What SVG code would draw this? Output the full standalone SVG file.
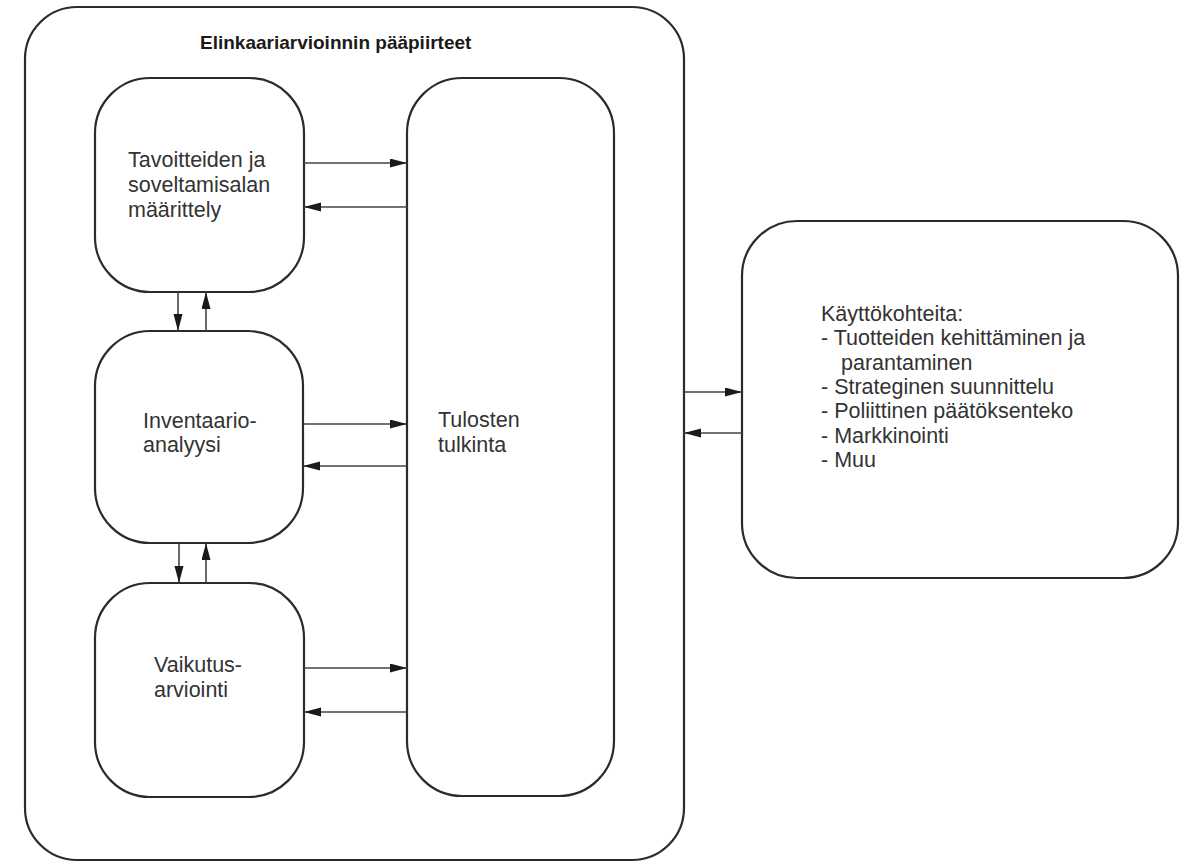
<svg xmlns="http://www.w3.org/2000/svg" width="1181" height="862" viewBox="0 0 1181 862">
<style>
.box{fill:#fff;stroke:#2b2b2b;stroke-width:2.2}
.outer{fill:#fff;stroke:#2b2b2b;stroke-width:2.2}
.lbl{font-family:"Liberation Sans",Arial,sans-serif;font-size:21.5px;fill:#333}
.title{font-family:"Liberation Sans",Arial,sans-serif;font-size:19px;font-weight:bold;fill:#1a1a1a}
.conn{stroke:#444;stroke-width:1.6;fill:none;marker-end:url(#ah)}
</style>
<defs>
<marker id="ah" markerUnits="userSpaceOnUse" markerWidth="18" markerHeight="10" refX="17" refY="4.5" orient="auto">
<path d="M0,0 L17,4.5 L0,9 z" fill="#1a1a1a"/>
</marker>
</defs>
<rect width="1181" height="862" fill="#fff"/>
<g id="outer">
<rect class="outer" x="25" y="7" width="659" height="853" rx="52" ry="52"/>
<text class="title" x="200" y="49">Elinkaariarvioinnin pääpiirteet</text>
</g>
<g id="goal">
<rect class="box" x="95" y="78" width="209" height="214" rx="55" ry="55"/>
<text class="lbl" x="128" y="167">Tavoitteiden ja</text>
<text class="lbl" x="128" y="192">soveltamisalan</text>
<text class="lbl" x="128" y="217">määrittely</text>
</g>
<g id="inventory">
<rect class="box" x="95" y="331" width="208" height="212" rx="55" ry="55"/>
<text class="lbl" x="143" y="428">Inventaario-</text>
<text class="lbl" x="143" y="452">analyysi</text>
</g>
<g id="impact">
<rect class="box" x="95" y="583" width="209" height="214" rx="55" ry="55"/>
<text class="lbl" x="154" y="672">Vaikutus-</text>
<text class="lbl" x="154" y="697">arviointi</text>
</g>
<g id="interpretation">
<rect class="box" x="407" y="78" width="207" height="718" rx="55" ry="55"/>
<text class="lbl" x="438" y="427">Tulosten</text>
<text class="lbl" x="438" y="452">tulkinta</text>
</g>
<g id="applications">
<rect class="box" x="742" y="221" width="436" height="357" rx="55" ry="55"/>
<text class="lbl" x="821" y="321">Käyttökohteita:</text>
<text class="lbl" x="821" y="345">- Tuotteiden kehittäminen ja</text>
<text class="lbl" x="841" y="370">parantaminen</text>
<text class="lbl" x="821" y="394">- Strateginen suunnittelu</text>
<text class="lbl" x="821" y="418">- Poliittinen päätöksenteko</text>
<text class="lbl" x="821" y="443">- Markkinointi</text>
<text class="lbl" x="821" y="467">- Muu</text>
</g>
<g id="connectors">
<line class="conn" x1="304" y1="163" x2="407" y2="163"/>
<line class="conn" x1="407" y1="207" x2="304" y2="207"/>
<line class="conn" x1="303" y1="424" x2="407" y2="424"/>
<line class="conn" x1="407" y1="466" x2="303" y2="466"/>
<line class="conn" x1="304" y1="668" x2="407" y2="668"/>
<line class="conn" x1="407" y1="712" x2="304" y2="712"/>
<line class="conn" x1="178" y1="292" x2="178" y2="331"/>
<line class="conn" x1="206" y1="331" x2="206" y2="292"/>
<line class="conn" x1="179" y1="543" x2="179" y2="583"/>
<line class="conn" x1="206" y1="583" x2="206" y2="543"/>
<line class="conn" x1="684" y1="392" x2="742" y2="392"/>
<line class="conn" x1="742" y1="433" x2="684" y2="433"/>
</g>
</svg>
